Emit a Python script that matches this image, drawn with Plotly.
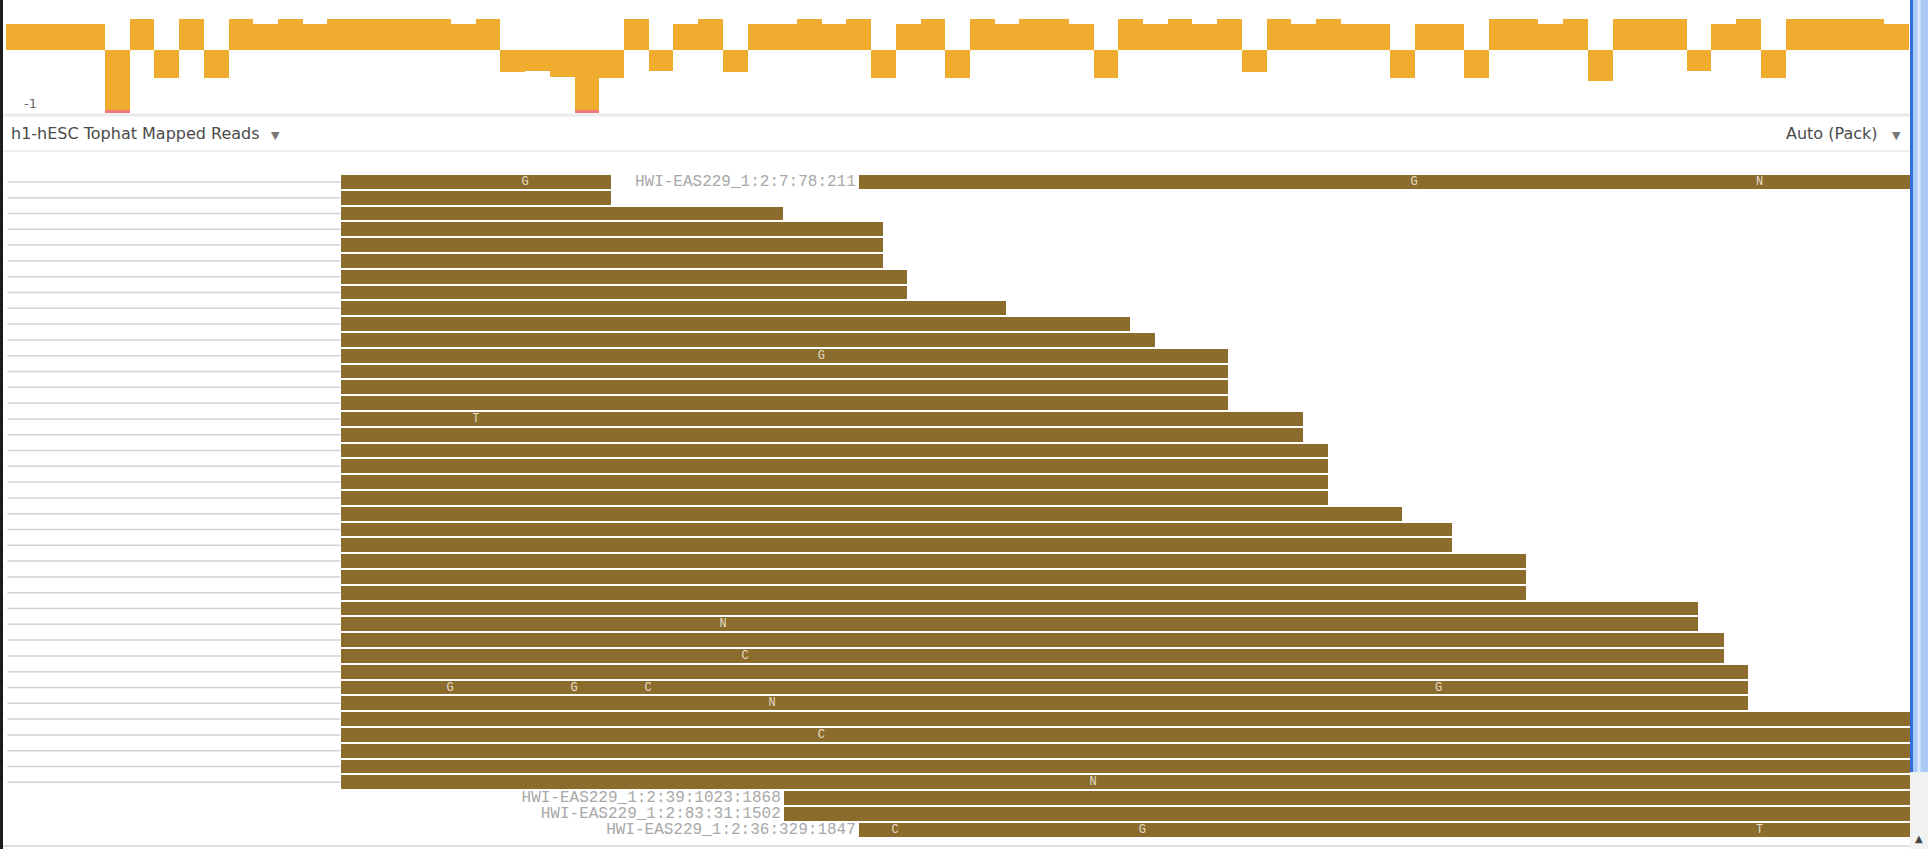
import plotly.graph_objects as go

W, H = 1928, 849
X_MAX = 1568  # view width in track units

# ---------------- coverage track (binned strand ratio) ----------------
cov_start = 5.0
cov_bin = 20.1
cov_values = [
    0.41, 0.41, 0.41, 0.41, -1.3, 0.5, -0.44, 0.5, -0.44, 0.5,
    0.41, 0.5, 0.41, 0.5, 0.5, 0.5, 0.5, 0.5, 0.41, 0.5,
    -0.35, -0.34, -0.43, -1.3, -0.44, 0.5, -0.34, 0.41, 0.5, -0.35,
    0.41, 0.41, 0.5, 0.41, 0.5, -0.44, 0.41, 0.5, -0.44, 0.5,
    0.41, 0.5, 0.5, 0.41, -0.44, 0.5, 0.41, 0.5, 0.41, 0.5,
    -0.35, 0.5, 0.41, 0.5, 0.41, 0.41, -0.44, 0.41, 0.41, -0.44,
    0.5, 0.5, 0.41, 0.5, -0.49, 0.5, 0.5, 0.5, -0.34, 0.41,
    0.5, -0.44, 0.5, 0.5, 0.5, 0.5, 0.41,
]
cov_min, cov_max = -1.0, 50 / 63

# ---------------- mapped reads ----------------
read_rows = list(range(42)) + [0]
read_starts = [277] * 39 + [638, 638, 699] + [699]
read_ends = [
    497, 497, 637, 718, 718, 718, 738, 738, 818, 919,
    939, 999, 999, 999, 999, 1060, 1060, 1080, 1080, 1080,
    1080, 1140, 1181, 1181, 1241, 1241, 1241, 1381, 1381, 1402,
    1402, 1422, 1422, 1422, 1553, 1553, 1553, 1553, 1553,
    1553, 1553, 1553,
    1553,
]
gap_rows = list(range(39))
gap_start = 6
gap_end = 277

name_rows = [0, 39, 40, 41]
name_pos = [699, 638, 638, 699]
names = [
    "HWI-EAS229_1:2:7:78:211",
    "HWI-EAS229_1:2:39:1023:1868",
    "HWI-EAS229_1:2:83:31:1502",
    "HWI-EAS229_1:2:36:329:1847",
]

mm_rows = [0, 0, 0, 11, 15, 28, 30, 32, 32, 32, 32, 33, 35, 38, 41, 41, 41]
mm_pos = [427, 1150, 1431, 668, 387, 588, 606, 366, 467, 527, 1170, 628, 668, 889, 728, 929, 1431]
mm_base = ["G", "G", "N", "G", "T", "N", "C", "G", "G", "C", "G", "N", "C", "N", "C", "G", "T"]

# ---------------- colours ----------------
COV_COLOR = "#f0ac2e"
CLIP_COLOR = "#f07878"
READ_COLOR = "#8b6c2c"
LABEL_PAD = 3  # gap between read name and read, track units

fig = go.Figure()

cov_x = [cov_start + cov_bin * (k + 0.5) for k in range(len(cov_values))]
fig.add_trace(go.Bar(x=cov_x, y=cov_values, width=cov_bin, marker=dict(color=COV_COLOR, line=dict(width=0)),
                     yaxis="y", hoverinfo="skip", showlegend=False))
clip_x = [x for x, v in zip(cov_x, cov_values) if v < cov_min]
fig.add_trace(go.Bar(x=clip_x, y=[0.05] * len(clip_x), base=[cov_min] * len(clip_x), width=cov_bin,
                     marker=dict(color=CLIP_COLOR, line=dict(width=0)), yaxis="y", hoverinfo="skip",
                     showlegend=False))

# gap lines of spliced reads
gx, gy = [], []
for r in gap_rows:
    gx += [gap_start, gap_end, None]
    gy += [r, r, None]
fig.add_trace(go.Scatter(x=gx, y=gy, mode="lines", line=dict(color="#d2d2d2", width=1.5), yaxis="y2",
                         hoverinfo="skip", showlegend=False))

fig.add_trace(go.Bar(y=read_rows, base=read_starts, x=[e - s for s, e in zip(read_starts, read_ends)],
                     orientation="h", width=0.88, marker=dict(color=READ_COLOR, line=dict(width=0)),
                     yaxis="y2", hoverinfo="skip", showlegend=False))

fig.add_trace(go.Scatter(x=[p - LABEL_PAD for p in name_pos], y=name_rows, mode="text", text=names,
                         textposition="middle left",
                         textfont=dict(family="Liberation Mono", size=16, color="#a8a8a8"), yaxis="y2",
                         hoverinfo="skip", showlegend=False))

fig.add_trace(go.Scatter(x=mm_pos, y=mm_rows, mode="text", text=mm_base, textposition="middle center",
                         textfont=dict(family="Liberation Mono", size=12, color="#e6dcc8"), yaxis="y2",
                         hoverinfo="skip", showlegend=False))


def py(o):
    return 1 - o / H


def px(o):
    return o / W


shapes = [
    # separators
    dict(type="line", xref="paper", yref="paper", x0=0, x1=px(1910), y0=py(115), y1=py(115),
         line=dict(color="#ebebeb", width=3)),
    dict(type="line", xref="paper", yref="paper", x0=0, x1=px(1910), y0=py(151), y1=py(151),
         line=dict(color="#efefef", width=2)),
    dict(type="line", xref="paper", yref="paper", x0=0, x1=px(1910), y0=py(846), y1=py(846),
         line=dict(color="#dedede", width=2)),
    # left border
    dict(type="rect", xref="paper", yref="paper", x0=0, x1=px(3), y0=0, y1=1,
         fillcolor="#1c1c1c", line=dict(width=0)),
    # scrollbar track
    dict(type="rect", xref="paper", yref="paper", x0=px(1910), x1=1.0, y0=0, y1=1.0,
         fillcolor="#f2f2f2", line=dict(width=0)),
    # scrollbar thumb
    dict(type="rect", xref="paper", yref="paper", x0=px(1910), x1=1.0, y0=py(772), y1=1.0,
         fillcolor="#a9caf6", line=dict(width=0)),
    dict(type="line", xref="paper", yref="paper", x0=px(1911.5), x1=px(1911.5), y0=py(772), y1=1.0,
         line=dict(color="#2f6fdc", width=3)),
    dict(type="line", xref="paper", yref="paper", x0=px(1919), x1=px(1919), y0=py(772), y1=1.0,
         line=dict(color="#d9e8fc", width=3)),
]

annotations = [
    dict(text="h1-hESC Tophat Mapped Reads", x=px(9), y=py(133), xref="paper", yref="paper",
         xanchor="left", yanchor="middle", showarrow=False,
         font=dict(family="DejaVu Sans", size=16, color="#4a4a4a")),
    dict(text="▼", x=px(275), y=py(135), xref="paper", yref="paper", xanchor="center", yanchor="middle",
         showarrow=False, font=dict(family="DejaVu Sans", size=11, color="#777777")),
    dict(text="Auto (Pack)", x=px(1880), y=py(133), xref="paper", yref="paper", xanchor="right",
         yanchor="middle", showarrow=False, font=dict(family="DejaVu Sans", size=16, color="#4a4a4a")),
    dict(text="▼", x=px(1896), y=py(135), xref="paper", yref="paper", xanchor="center", yanchor="middle",
         showarrow=False, font=dict(family="DejaVu Sans", size=11, color="#777777")),
    dict(text="-1", x=px(31), y=py(104), xref="paper", yref="paper", xanchor="center", yanchor="middle",
         showarrow=False, font=dict(family="DejaVu Sans", size=13, color="#6a6a6a")),
    dict(text="▲", x=px(1919), y=py(838), xref="paper", yref="paper", xanchor="center", yanchor="middle",
         showarrow=False, font=dict(family="DejaVu Sans", size=10, color="#444444")),
]

fig.update_layout(
    width=W, height=H, margin=dict(l=0, r=0, t=0, b=0),
    paper_bgcolor="white", plot_bgcolor="white",
    barmode="overlay", bargap=0,
    xaxis=dict(range=[0, X_MAX], visible=False, fixedrange=True),
    yaxis=dict(domain=[py(113), 1.0], range=[cov_min, cov_max], visible=False, fixedrange=True),
    yaxis2=dict(domain=[py(837.6), py(174)], range=[41.5, -0.5], visible=False, anchor="x",
                fixedrange=True),
    shapes=shapes, annotations=annotations,
)

fig.write_html("out.html", config={"displayModeBar": False},
               post_script="document.body.style.margin='0';document.body.style.overflow='hidden';")
